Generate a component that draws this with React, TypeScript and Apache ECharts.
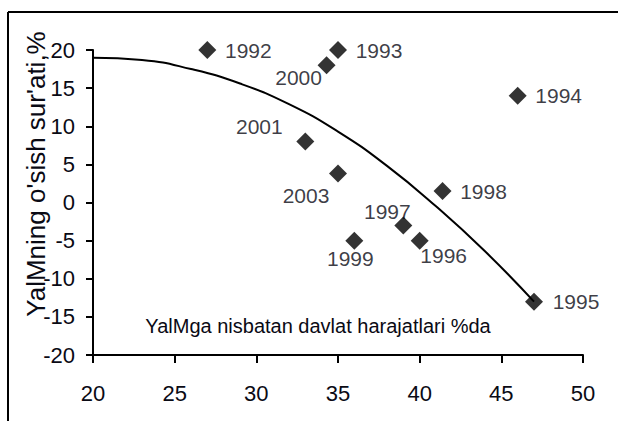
import React, { useEffect, useRef } from "react";
import * as echarts from "echarts";

const years = ["1992", "1993", "2000", "1994", "2001", "2003", "1998", "1997", "1996", "1999", "1995"];
const spending = [27, 35, 34.3, 46, 33, 35, 41.4, 39, 40, 36, 47];
const growth = [20, 20, 18, 14, 8, 3.8, 1.5, -3, -5, -5, -13];
// label offsets from marker centre (px)
const labelOffsets: [number, number][] = [
  [41, 0], [41, 0], [-28, 12], [41, 0], [-46, -15], [-32, 22], [41, 0], [-16, -14], [24, 15], [-4, 18], [42, 0],
];

const trendX = [20, 23, 26, 29, 32, 35, 38, 41, 44, 47];
const trendY = [19.0, 18.7, 17.5, 15.6, 12.9, 9.3, 4.8, -0.5, -6.4, -13.0];

const xTitle = "YalMga nisbatan davlat harajatlari %da";
const yTitle = "YalMning o'sish sur'ati,%";

const FONT = "'Liberation Sans', Arial, sans-serif";
const TXT = "#0a0a14";

export default function App() {
  const ref = useRef<HTMLDivElement>(null);
  useEffect(() => {
    if (!ref.current) return;
    const chart = echarts.init(ref.current, null, { renderer: "svg" });
    const scatterData = spending.map((x, i) => ({
      value: [x, growth[i]],
      name: years[i],
      label: {
        show: true,
        position: "inside",
        offset: labelOffsets[i],
        formatter: years[i],
      },
    }));
    chart.setOption({
      animation: false,
      backgroundColor: "#ffffff",
      grid: { left: 93, right: 35, top: 50, bottom: 66 },
      xAxis: {
        type: "value",
        min: 20,
        max: 50,
        interval: 5,
        splitLine: { show: false },
        axisLine: { show: true, onZero: false, lineStyle: { color: "#000", width: 2 } },
        axisTick: { show: true, inside: false, length: 8, lineStyle: { color: "#000", width: 2 } },
        axisLabel: { color: TXT, fontFamily: FONT, fontSize: 22, margin: 27 },
      },
      yAxis: {
        type: "value",
        min: -20,
        max: 20,
        interval: 5,
        splitLine: { show: false },
        axisLine: { show: true, onZero: false, lineStyle: { color: "#000", width: 2 } },
        axisTick: { show: true, inside: false, length: 7, lineStyle: { color: "#000", width: 2 } },
        axisLabel: { color: TXT, fontFamily: FONT, fontSize: 22, margin: 18 },
      },
      series: [
        {
          type: "line",
          data: trendX.map((x, i) => [x, trendY[i]]),
          smooth: 0.5,
          showSymbol: false,
          lineStyle: { color: "#000", width: 2 },
          z: 1,
        },
        {
          type: "scatter",
          symbol: "diamond",
          symbolSize: 18,
          itemStyle: { color: "#000" },
          label: { color: TXT, fontFamily: FONT, fontSize: 21 },
          data: scatterData,
          z: 2,
        },
      ],
      graphic: [
        { type: "line", shape: { x1: 8, y1: 12, x2: 618, y2: 12 }, style: { stroke: "#000", lineWidth: 2 } },
        { type: "line", shape: { x1: 8, y1: 12, x2: 8, y2: 421 }, style: { stroke: "#000", lineWidth: 2 } },
        {
          type: "text",
          x: 318,
          y: 326,
          style: { text: xTitle, fill: TXT, font: `20px ${FONT}`, align: "center", verticalAlign: "middle" },
        },
        {
          type: "text",
          x: 36,
          y: 174,
          rotation: Math.PI / 2,
          style: { text: yTitle, fill: TXT, font: `26px ${FONT}`, align: "center", verticalAlign: "middle" },
        },
      ],
    });
    return () => chart.dispose();
  }, []);
  return <div ref={ref} style={{ position: "fixed", left: 0, top: 0, width: 618, height: 421 }} />;
}
